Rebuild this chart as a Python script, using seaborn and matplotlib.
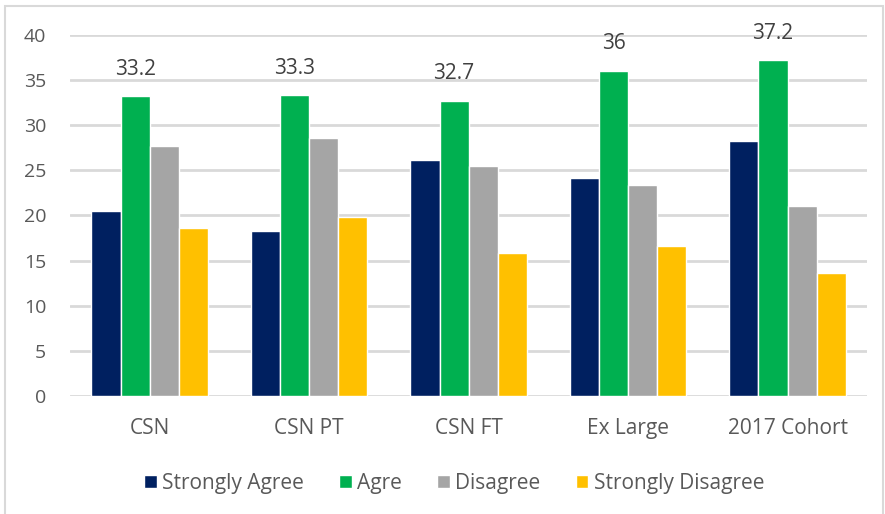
import pandas as pd
import seaborn as sns
from matplotlib import pyplot as plt
from matplotlib.patches import Rectangle

# === DATA
groups = ['CSN', 'CSN PT', 'CSN FT', 'Ex Large', '2017 Cohort']
responses = ['Strongly Agree', 'Agre', 'Disagree', 'Strongly Disagree']
strongly_agree = [20.5, 18.3, 26.1, 24.1, 28.2]
agree = [33.2, 33.3, 32.7, 36, 37.2]
disagree = [27.7, 28.6, 25.5, 23.4, 21.0]
strongly_disagree = [18.6, 19.8, 15.8, 16.6, 13.6]

colors = ['#002060', '#00B050', '#A5A5A5', '#FFC000']

# Long table for seaborn
series = [strongly_agree, agree, disagree, strongly_disagree]
rows = []
for resp, vals in zip(responses, series):
    for g, v in zip(groups, vals):
        rows.append({'group': g, 'response': resp, 'value': v})
df = pd.DataFrame(rows)

# === PLOT
sns.set_style('white')
plt.rcParams['font.family'] = ['Open Sans', 'DejaVu Sans']

fig = plt.figure(figsize=(8.85, 5.14), dpi=100)
ax = fig.add_axes([0.079, 0.2296, 0.901, 0.7023])

sns.barplot(data=df, x='group', y='value', hue='response',
            order=groups, hue_order=responses, palette=colors,
            width=0.73, saturation=1, ax=ax)

# Labels above the Agree bars
ax.bar_label(ax.containers[1], fmt='%g', padding=12,
             fontsize=15, color='#404040')

# Axis styling
ax.set_ylim(0, 40)
ax.set_xlim(-0.5, 4.5)
ax.set_yticks(range(0, 41, 5))
ax.yaxis.grid(True, color='#D9D9D9', linewidth=2)
ax.set_axisbelow(True)
for s in ax.spines.values():
    s.set_visible(False)
ax.tick_params(axis='both', length=0, colors='#595959')
ax.tick_params(axis='y', pad=17, labelsize=14)
ax.tick_params(axis='x', pad=16, labelsize=15)
ax.set_xlabel('')
ax.set_ylabel('')

# Legend below
leg = ax.legend(loc='center', bbox_to_anchor=(0.482, -0.243), ncol=4,
                frameon=False, fontsize=15, handlelength=0.6,
                handleheight=0.6, handletextpad=0.25, columnspacing=1.7)
for t in leg.get_texts():
    t.set_color('#595959')

# Chart border
fig.patches.append(Rectangle((5 / 885, -0.05), 878 / 885, 1.05 - 6 / 514,
                             transform=fig.transFigure, fill=False,
                             edgecolor='#D9D9D9', linewidth=1.5))

plt.savefig('out.png')
